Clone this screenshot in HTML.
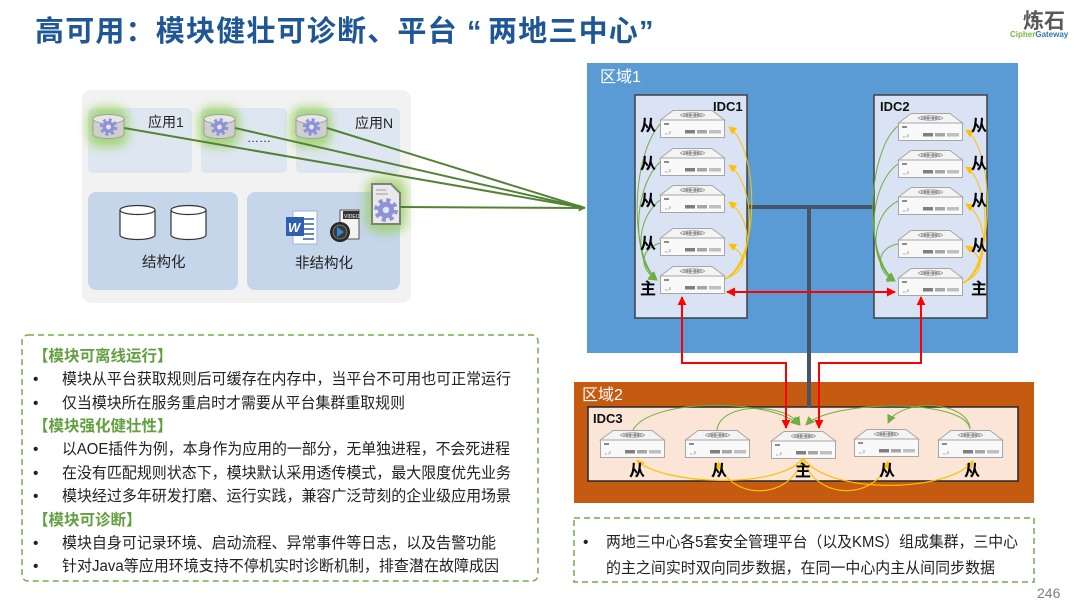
<!DOCTYPE html>
<html><head><meta charset="utf-8">
<style>
html,body{margin:0;padding:0;background:#fff;}
body{width:1080px;height:608px;overflow:hidden;}
svg{display:block;}
text{font-family:"Liberation Sans","Noto Sans CJK SC",sans-serif;}
</style></head>
<body>
<svg width="1080" height="608" viewBox="0 0 1080 608" xmlns="http://www.w3.org/2000/svg">
<defs>
  <filter id="blur" x="-50%" y="-50%" width="200%" height="200%"><feGaussianBlur stdDeviation="5"/></filter>
  <marker id="mg" viewBox="0 0 10 10" refX="9" refY="5" markerUnits="userSpaceOnUse" markerWidth="9" markerHeight="9" orient="auto"><path d="M0 0L10 5L0 10z" fill="#70ad47"/></marker>
  <marker id="mg2" viewBox="0 0 10 10" refX="9" refY="5" markerUnits="userSpaceOnUse" markerWidth="7" markerHeight="7" orient="auto"><path d="M0 0L10 5L0 10z" fill="#548235"/></marker>
  <marker id="my" viewBox="0 0 10 10" refX="9" refY="5" markerUnits="userSpaceOnUse" markerWidth="8" markerHeight="8" orient="auto"><path d="M0 0L10 5L0 10z" fill="#ffc000"/></marker>
  <marker id="mr" viewBox="0 0 10 10" refX="9" refY="5" markerUnits="userSpaceOnUse" markerWidth="9" markerHeight="9" orient="auto-start-reverse"><path d="M0 0L10 5L0 10z" fill="#ff0000"/></marker>
  <g id="srv">
    <polygon points="13,0.5 52,0.5 64.5,10 0.5,10" fill="#f4f4f4" stroke="#a6a6a6" stroke-width="1"/>
    <rect x="0.5" y="10" width="64" height="17.5" fill="#f9f9f9" stroke="#a6a6a6" stroke-width="1"/>
    <ellipse cx="32.5" cy="5" rx="12" ry="2.2" fill="none" stroke="#7f7f7f" stroke-width="0.7"/>
    <path d="M23 5h19M27 3.5v3M30 3v4M35 3v4M38 3.5v3" stroke="#595959" stroke-width="0.8"/>
    <rect x="4" y="13" width="5" height="2" fill="#8c8c8c"/>
    <path d="M5 24h2M8 24h1M10 21v3" stroke="#8c8c8c" stroke-width="0.8"/>
    <rect x="25" y="20" width="10" height="3.5" fill="#7f7f7f"/>
    <rect x="37" y="20" width="10" height="3.5" fill="#a6a6a6"/>
    <rect x="49" y="20" width="12" height="3.5" fill="#bfbfbf"/>
  </g>
  <g id="gear">
    <circle r="6" fill="#8e93d8"/>
    <circle r="7.3" fill="none" stroke="#8e93d8" stroke-width="3" stroke-dasharray="3 2.73"/>
    <circle r="2.4" fill="#e4e5f7"/>
  </g>
  <g id="gcyl">
    <path d="M0 5 v15 a15.5 4.5 0 0 0 31 0 v-15" fill="#cfcfcf" stroke="#9f9f9f" stroke-width="1"/>
    <ellipse cx="15.5" cy="5" rx="15.5" ry="4.5" fill="#e6e6e6" stroke="#9f9f9f" stroke-width="1"/>
    <use href="#gear" transform="translate(15.5 13)"/>
  </g>
  <g id="wcyl">
    <path d="M0 5 v25 a17.5 4.5 0 0 0 35 0 v-25" fill="#fff" stroke="#333" stroke-width="1.2"/>
    <ellipse cx="17.5" cy="5" rx="17.5" ry="4.5" fill="#fff" stroke="#333" stroke-width="1.2"/>
  </g>
</defs>

<!-- Title -->
<text y="41" font-size="29" font-weight="bold" fill="#1f5796"
 x="35 65.2 95.4 125.6 155.8 186 216.2 246.4 276.6 306.8 337 367.2 397.4 427.6 467 488 518.2 548.4 578.6 608.8 639">高可用：模块健壮可诊断、平台“两地三中心”</text>

<!-- Logo -->
<text x="1023" y="28" font-size="21" fill="#595959" font-weight="bold">炼石</text>
<text x="1010" y="37" font-size="8" font-weight="bold" fill="#7ab648">Cipher<tspan fill="#2e75b6">Gateway</tspan></text>

<!-- Left panel -->
<rect x="82" y="90" width="329" height="213" rx="9" fill="#f2f2f2"/>
<rect x="88" y="108" width="104" height="65" rx="5" fill="#dee6f1"/>
<rect x="201" y="108" width="86" height="65" rx="5" fill="#dee6f1"/>
<rect x="296" y="108" width="104" height="65" rx="5" fill="#dee6f1"/>
<rect x="88" y="192" width="150" height="98" rx="8" fill="#c5d5ea"/>
<rect x="247" y="192" width="153" height="98" rx="8" fill="#c5d5ea"/>

<g filter="url(#blur)" fill="#92d050" opacity="0.75">
  <rect x="88" y="107" width="40" height="40" rx="12"/>
  <rect x="199" y="107" width="40" height="40" rx="12"/>
  <rect x="291" y="107" width="40" height="40" rx="12"/>
  <rect x="366" y="178" width="40" height="54" rx="12"/>
</g>

<use href="#gcyl" x="93" y="114"/>
<use href="#gcyl" x="204" y="114"/>
<use href="#gcyl" x="296" y="114"/>

<!-- doc gear icon -->
<path d="M372 184 h19 l9 9 v31 h-28 z" fill="#e9e9e9" stroke="#7f7f7f" stroke-width="2"/>
<path d="M376 190h10M376 194h12" stroke="#9a9a9a" stroke-width="1"/>
<g transform="translate(386 210) scale(1.35)"><use href="#gear"/></g>

<text x="148" y="127" font-size="14" fill="#222">应用1</text>
<text x="355" y="128" font-size="14" fill="#222">应用N</text>
<text x="247" y="142" font-size="12" fill="#222">……</text>

<use href="#wcyl" x="120" y="205"/>
<use href="#wcyl" x="171" y="205"/>
<text x="142" y="267" font-size="14.5" fill="#222">结构化</text>
<text x="295" y="268" font-size="14.5" fill="#222">非结构化</text>

<!-- word icon -->
<rect x="293" y="211" width="24" height="33" fill="#fff" stroke="#9fb3d6"/>
<path d="M303 219h11M303 224h11M303 229h11M303 234h11M303 239h11" stroke="#2f5fb3" stroke-width="1.6"/>
<rect x="286" y="217" width="18" height="19" fill="#2f5fb3"/>
<text x="288" y="232" font-size="13" font-weight="bold" fill="#fff" font-style="italic">W</text>
<!-- video icon -->
<path d="M340 210 h19 v29 h-19 z" fill="#f3f3f3" stroke="#555" stroke-width="1"/>
<rect x="343" y="211" width="16" height="8" fill="#333"/>
<text x="344" y="218" font-size="5" fill="#fff">VIDEO</text>
<circle cx="340" cy="232" r="10" fill="#262626"/>
<circle cx="340" cy="232" r="7" fill="#3a3a3a" stroke="#777"/>
<path d="M337 227 l7 5 l-7 5 z" fill="#2e8bd8"/>

<!-- green converging lines -->
<g stroke="#548235" stroke-width="2" fill="none">
  <line x1="124" y1="128" x2="585" y2="208"/>
  <line x1="235" y1="128" x2="585" y2="208"/>
  <line x1="327" y1="128" x2="585" y2="208"/>
  <line x1="400" y1="207" x2="585" y2="208" marker-end="url(#mg2)"/>
</g>

<!-- Region 1 -->
<rect x="587" y="63" width="431" height="290" fill="#5b9bd5"/>
<text x="600" y="82" font-size="16" fill="#fff">区域1</text>
<!-- Region 2 -->
<rect x="574" y="382" width="460" height="121" fill="#c55a11"/>
<text x="582" y="400" font-size="16" fill="#fff">区域2</text>

<!-- dark connection -->
<path d="M747 207 H873" stroke="#44546a" stroke-width="4" fill="none"/>
<path d="M809 207 V408" stroke="#44546a" stroke-width="4" fill="none"/>

<!-- IDC1 / IDC2 boxes -->
<rect x="635" y="95" width="112" height="223" fill="#dae3f3" stroke="#404040" stroke-width="1.5"/>
<rect x="874" y="95" width="113" height="223" fill="#dae3f3" stroke="#404040" stroke-width="1.5"/>
<text x="713" y="111" font-size="13" font-weight="bold" fill="#111">IDC1</text>
<text x="880" y="111" font-size="13" font-weight="bold" fill="#111">IDC2</text>

<!-- IDC1 servers -->
<use href="#srv" x="660" y="110"/>
<use href="#srv" x="660" y="148"/>
<use href="#srv" x="660" y="185"/>
<use href="#srv" x="660" y="228"/>
<use href="#srv" x="660" y="266"/>
<!-- IDC2 servers -->
<use href="#srv" x="898" y="113"/>
<use href="#srv" x="898" y="150"/>
<use href="#srv" x="898" y="187"/>
<use href="#srv" x="898" y="230"/>
<use href="#srv" x="898" y="268"/>

<!-- IDC1 curves -->
<g fill="none" stroke="#70ad47" stroke-width="1">
  <path d="M660 124 C630 160,630 255,657 280" marker-end="url(#mg)"/>
  <path d="M660 162 C632 190,632 258,657 280" marker-end="url(#mg)"/>
  <path d="M660 200 C635 220,635 262,657 280" marker-end="url(#mg)"/>
  <path d="M660 243 C638 250,640 270,657 280" marker-end="url(#mg)"/>
</g>
<g fill="none" stroke="#ffc000" stroke-width="1">
  <path d="M725 279 C760 260,760 150,729 127" marker-end="url(#my)"/>
  <path d="M725 279 C757 262,757 185,729 165" marker-end="url(#my)"/>
  <path d="M725 279 C754 264,754 220,729 202" marker-end="url(#my)"/>
  <path d="M725 279 C748 270,748 255,729 244" marker-end="url(#my)"/>
</g>
<!-- IDC2 curves -->
<g fill="none" stroke="#70ad47" stroke-width="1">
  <path d="M898 126 C868 150,862 255,895 281" marker-end="url(#mg)"/>
  <path d="M898 164 C868 185,865 258,895 281" marker-end="url(#mg)"/>
  <path d="M898 201 C870 215,868 262,895 281" marker-end="url(#mg)"/>
  <path d="M898 244 C875 248,875 272,895 281" marker-end="url(#mg)"/>
</g>
<g fill="none" stroke="#ffc000" stroke-width="1">
  <path d="M963 283 C995 265,995 150,966 130" marker-end="url(#my)"/>
  <path d="M963 283 C992 267,992 185,966 167" marker-end="url(#my)"/>
  <path d="M963 283 C990 268,990 220,966 204" marker-end="url(#my)"/>
  <path d="M963 283 C985 272,985 258,966 246" marker-end="url(#my)"/>
</g>

<g font-size="16" font-weight="bold" fill="#000">
  <text x="640" y="131">从</text>
  <text x="640" y="169">从</text>
  <text x="640" y="206">从</text>
  <text x="640" y="249">从</text>
  <text x="640" y="294">主</text>
  <text x="971" y="131">从</text>
  <text x="971" y="169">从</text>
  <text x="971" y="206">从</text>
  <text x="971" y="251">从</text>
  <text x="971" y="294">主</text>
</g>

<!-- IDC3 -->
<rect x="588" y="407" width="430" height="74" fill="#fbe5d6" stroke="#262626" stroke-width="1.5"/>
<path d="M809 382 V407" stroke="#44546a" stroke-width="4"/>
<text x="593" y="423" font-size="13" font-weight="bold" fill="#111">IDC3</text>
<use href="#srv" x="600" y="430"/>
<use href="#srv" x="685" y="430"/>
<use href="#srv" x="771" y="431"/>
<use href="#srv" x="854" y="429"/>
<use href="#srv" x="938" y="430"/>

<g fill="none" stroke="#70ad47" stroke-width="1">
  <path d="M633 430 C650 398,770 398,799 425" marker-end="url(#mg)"/>
  <path d="M717 430 C720 402,785 402,800 425" marker-end="url(#mg)"/>
  <path d="M970 429 C965 398,830 400,806 425" marker-end="url(#mg)"/>
  <path d="M970 429 C968 400,900 398,888 423" marker-end="url(#mg)"/>
</g>
<g fill="none" stroke="#ffc000" stroke-width="1.2">
  <path d="M803 458 C780 490,660 485,637 460" marker-end="url(#my)"/>
  <path d="M803 458 C790 502,730 500,718 462" marker-end="url(#my)"/>
  <path d="M803 458 C815 502,878 500,888 461" marker-end="url(#my)"/>
  <path d="M803 458 C830 496,950 492,973 461" marker-end="url(#my)"/>
</g>
<g font-size="16" font-weight="bold" fill="#000">
  <text x="629" y="476">从</text>
  <text x="711" y="476">从</text>
  <text x="795" y="476">主</text>
  <text x="879" y="476">从</text>
  <text x="964" y="476">从</text>
</g>

<!-- red sync arrows -->
<g fill="none" stroke="#ff0000" stroke-width="2">
  <path d="M727 292 H895" marker-start="url(#mr)" marker-end="url(#mr)"/>
  <path d="M682 297 V363 H786 V428" marker-start="url(#mr)" marker-end="url(#mr)"/>
  <path d="M921 297 V363 H819 V428" marker-start="url(#mr)" marker-end="url(#mr)"/>
</g>

<!-- Left text box -->
<rect x="22" y="335" width="516" height="246" rx="6" fill="none" stroke="#70ad47" stroke-width="1.5" stroke-dasharray="6 4"/>
<g font-size="15.5" fill="#222">
  <text x="33" y="361" font-weight="bold" fill="#62a03f">【模块可离线运行】</text>
  <text x="33" y="384">•</text>
  <text x="62" y="384" textLength="449" lengthAdjust="spacingAndGlyphs">模块从平台获取规则后可缓存在内存中，当平台不可用也可正常运行</text>
  <text x="33" y="408">•</text>
  <text x="62" y="408" textLength="343" lengthAdjust="spacingAndGlyphs">仅当模块所在服务重启时才需要从平台集群重取规则</text>
  <text x="33" y="431" font-weight="bold" fill="#62a03f">【模块强化健壮性】</text>
  <text x="33" y="454">•</text>
  <text x="62" y="454" textLength="448" lengthAdjust="spacingAndGlyphs">以AOE插件为例，本身作为应用的一部分，无单独进程，不会死进程</text>
  <text x="33" y="478">•</text>
  <text x="62" y="478" textLength="449" lengthAdjust="spacingAndGlyphs">在没有匹配规则状态下，模块默认采用透传模式，最大限度优先业务</text>
  <text x="33" y="501">•</text>
  <text x="62" y="501" textLength="449" lengthAdjust="spacingAndGlyphs">模块经过多年研发打磨、运行实践，兼容广泛苛刻的企业级应用场景</text>
  <text x="33" y="525" font-weight="bold" fill="#62a03f">【模块可诊断】</text>
  <text x="33" y="548">•</text>
  <text x="62" y="548" textLength="434" lengthAdjust="spacingAndGlyphs">模块自身可记录环境、启动流程、异常事件等日志，以及告警功能</text>
  <text x="33" y="571">•</text>
  <text x="62" y="571" textLength="437" lengthAdjust="spacingAndGlyphs">针对Java等应用环境支持不停机实时诊断机制，排查潜在故障成因</text>
</g>

<!-- Right text box -->
<rect x="574" y="518" width="460" height="64" fill="none" stroke="#70ad47" stroke-width="1.5" stroke-dasharray="6 4"/>
<g font-size="15.5" fill="#222">
  <text x="583" y="547">•</text>
  <text x="606" y="547" textLength="412" lengthAdjust="spacingAndGlyphs">两地三中心各5套安全管理平台（以及KMS）组成集群，三中心</text>
  <text x="606" y="573" textLength="389" lengthAdjust="spacingAndGlyphs">的主之间实时双向同步数据，在同一中心内主从间同步数据</text>
</g>

<text x="1037" y="598" font-size="14" fill="#808080">246</text>
</svg>
</body></html>
